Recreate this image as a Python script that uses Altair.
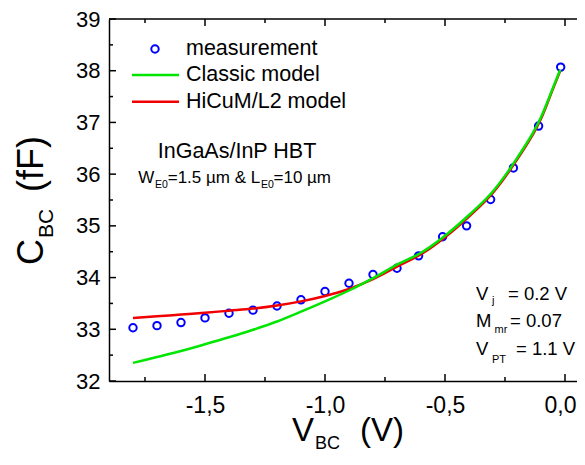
import altair as alt
import pandas as pd

# ---------------- data ----------------
vbc_meas = [-1.80, -1.70, -1.60, -1.50, -1.40, -1.30, -1.20, -1.10, -1.00, -0.90,
            -0.80, -0.70, -0.61, -0.51, -0.41, -0.31, -0.215, -0.11, -0.018]
c_meas = [33.03, 33.07, 33.13, 33.22, 33.31, 33.37, 33.45, 33.57, 33.73, 33.89,
          34.06, 34.18, 34.42, 34.79, 35.00, 35.51, 36.12, 36.93, 38.07]

vbc_model = [-1.8, -1.7, -1.6, -1.5, -1.4, -1.3, -1.2, -1.1, -1.0, -0.9,
             -0.8, -0.7, -0.6, -0.5, -0.4, -0.3, -0.2, -0.1, -0.05, -0.02]
c_classic = [32.35, 32.465, 32.58, 32.71, 32.845, 32.99, 33.15, 33.34, 33.54, 33.75,
             33.99, 34.25, 34.48, 34.81, 35.21, 35.67, 36.31, 37.10, 37.67, 38.02]
c_hicum = [33.22, 33.25, 33.285, 33.32, 33.36, 33.40, 33.46, 33.54, 33.645, 33.78,
           33.97, 34.21, 34.45, 34.78, 35.18, 35.64, 36.28, 37.07, 37.65, 38.00]

x_major = [-1.5, -1.0, -0.5, 0.0]
x_minor = [-1.75, -1.25, -0.75, -0.25]
y_major = [32, 33, 34, 35, 36, 37, 38, 39]
y_minor = [32.5, 33.5, 34.5, 35.5, 36.5, 37.5, 38.5]

legend_labels = ["measurement", "Classic model", "HiCuM/L2 model"]

FONT = "Liberation Sans"
BLUE = "#0000ff"
GREEN = "#00e600"
RED = "#f00000"
X_DOM = [-1.9, 0.05]
Y_DOM = [32, 39]
W, H = 468, 362

meas_df = pd.DataFrame({"v": vbc_meas, "c": c_meas})
classic_df = pd.DataFrame({"v": vbc_model, "c": c_classic})
hicum_df = pd.DataFrame({"v": vbc_model, "c": c_hicum})
xmaj_df = pd.DataFrame({"v": x_major})
xmin_df = pd.DataFrame({"v": x_minor})
ymaj_df = pd.DataFrame({"c": y_major})
ymin_df = pd.DataFrame({"c": y_minor})

XS = alt.Scale(domain=X_DOM, nice=False, zero=False)
YS = alt.Scale(domain=Y_DOM, nice=False, zero=False)

x_lab_expr = "(datum.value < 0 ? '-' : '') + replace(format(abs(datum.value), '.1f'), '.', ',')"

ax_x = alt.Axis(values=x_major, ticks=False, tickSize=0, domain=True, domainColor="black",
                domainWidth=1.5, grid=False, title=None, labelFont=FONT, labelFontSize=23,
                labelColor="black", labelPadding=13, labelExpr=x_lab_expr,
                labelOffset={"condition": {"test": "datum.value === 0", "value": -5}, "value": 0},
                labelOverlap=False, labelFlush=False)
ax_y = alt.Axis(values=y_major, ticks=False, tickSize=0, domain=True, domainColor="black",
                domainWidth=1.5, grid=False, title=None, labelFont=FONT, labelFontSize=22,
                labelColor="black", labelPadding=9, format="d",
                labelOverlap=False, labelFlush=False)

points = alt.Chart(meas_df).mark_point(shape="circle", filled=False, size=55, strokeWidth=2,
                                       color=BLUE, opacity=1).encode(
    x=alt.X("v:Q", scale=XS, axis=ax_x), y=alt.Y("c:Q", scale=YS, axis=ax_y))
red_line = alt.Chart(hicum_df).mark_line(color=RED, strokeWidth=2.5, interpolate="monotone").encode(
    x=alt.X("v:Q", scale=XS), y=alt.Y("c:Q", scale=YS))
green_line = alt.Chart(classic_df).mark_line(color=GREEN, strokeWidth=2.5, interpolate="monotone").encode(
    x=alt.X("v:Q", scale=XS), y=alt.Y("c:Q", scale=YS))


# inward ticks drawn through the shared scales
def xticks(df, y0, y1):
    return alt.Chart(df).mark_rule(color="black", strokeWidth=1.5).encode(
        x=alt.X("v:Q", scale=XS), y=alt.value(y0), y2=alt.value(y1))


def yticks(df, x0, x1):
    return alt.Chart(df).mark_rule(color="black", strokeWidth=1.5).encode(
        y=alt.Y("c:Q", scale=YS), x=alt.value(x0), x2=alt.value(x1))


tick_layers = [
    xticks(xmaj_df, H - 7, H), xticks(xmin_df, H - 4, H),
    xticks(xmaj_df, 0, 7), xticks(xmin_df, 0, 4),
    yticks(ymaj_df, 0, 7), yticks(ymin_df, 0, 4),
]

one = alt.Data(values=[{}])
top_frame = alt.Chart(one).mark_rule(color="black", strokeWidth=1.5).encode(
    x=alt.value(0), x2=alt.value(W), y=alt.value(0))


def txt(s, x, y, size, angle=0, align="left", baseline="alphabetic"):
    return alt.Chart(alt.Data(values=[{}])).mark_text(
        text=s, font=FONT, fontSize=size, align=align, baseline=baseline,
        angle=angle, color="black").encode(x=alt.value(x), y=alt.value(y))


leg_circle = alt.Chart(one).mark_point(shape="circle", filled=False, size=55, strokeWidth=2,
                                       color=BLUE, opacity=1).encode(x=alt.value(46), y=alt.value(30))
leg_green = alt.Chart(one).mark_rule(color=GREEN, strokeWidth=2.5).encode(
    x=alt.value(23), x2=alt.value(70), y=alt.value(56))
leg_red = alt.Chart(one).mark_rule(color=RED, strokeWidth=2.5).encode(
    x=alt.value(23), x2=alt.value(70), y=alt.value(82.7))

texts = [
    txt(legend_labels[0], 77, 30, 21.5, baseline="middle"),
    txt(legend_labels[1], 77, 56, 21.5, baseline="middle"),
    txt(legend_labels[2], 77, 82.7, 21.5, baseline="middle"),
    txt("InGaAs/InP HBT", 128, 139, 21.5, align="center"),
    txt("W", 29.3, 164.3, 17), txt("E0", 46, 169, 10.5),
    txt("=1.5 µm & L", 58.7, 164.3, 17), txt("E0", 152, 169, 10.5),
    txt("=10 µm", 164.5, 164.3, 17),
    txt("V", 367, 281, 18.5), txt("j", 383, 285, 11), txt("= 0.2 V", 399, 281, 18.5),
    txt("M", 367, 308, 18.5), txt("mr", 385.5, 314, 11), txt("= 0.07", 401, 308, 18.5),
    txt("V", 367, 336, 18.5), txt("PT", 383, 344, 11), txt("= 1.1 V", 407, 336, 18.5),
    # axis titles
    txt("V", 183, 422, 33), txt("BC", 206, 430, 18), txt("(V)", 251, 422, 33),
    txt("C", -66, 246, 36, angle=270), txt("BC", -56, 219, 21, angle=270),
    txt("(fF)", -66, 173, 36, angle=270),
]

chart = alt.layer(
    points, red_line, green_line, *tick_layers, top_frame,
    leg_circle, leg_green, leg_red, *texts
).properties(
    width=W, height=H,
    padding={"left": 101, "top": 11, "right": 0, "bottom": 72},
    autosize=alt.AutoSizeParams(type="none"),
    background="white",
).configure_view(stroke=None)

chart.save("out.html", embed_options={"renderer": "svg", "actions": False})
